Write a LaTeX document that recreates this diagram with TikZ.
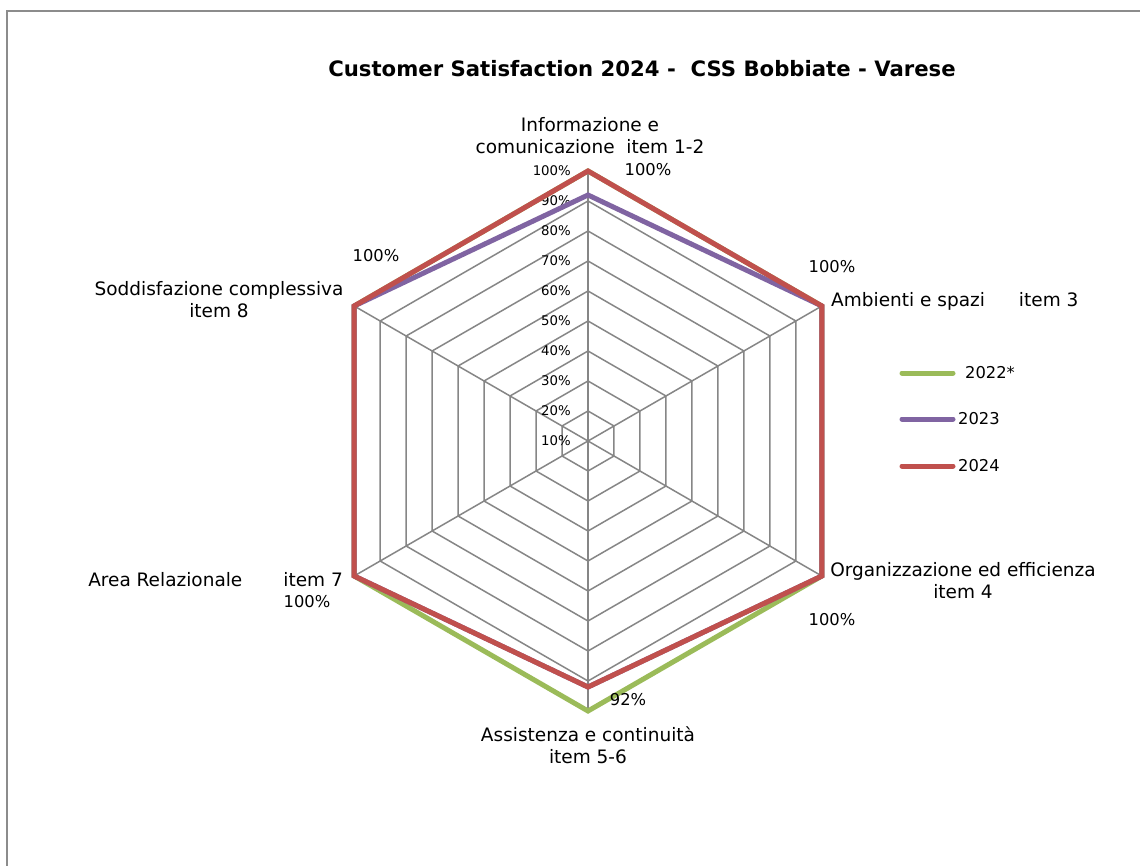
\documentclass[tikz,border=0pt]{standalone}
\usepackage{fontspec}
\setmainfont{DejaVu Sans}
\begin{document}
\begin{tikzpicture}[x=1pt,y=1pt,
  grid/.style={draw=gridgray,line width=1.5},
  series/.style={line width=5,line join=miter},
  cat/.style={inner sep=0,align=center,font=\fontsize{18.5}{22}\selectfont},
  dlab/.style={inner sep=0,font=\fontsize{16.3}{19}\selectfont},
  tick/.style={inner sep=0,anchor=east,font=\fontsize{13.3}{15}\selectfont},
  leg/.style={line width=5,line cap=round},
  legtext/.style={inner sep=0,anchor=west,font=\fontsize{16.3}{19}\selectfont}]
\definecolor{gridgray}{HTML}{868686}
\definecolor{sgreen}{HTML}{9BBB59}
\definecolor{spurple}{HTML}{8064A2}
\definecolor{sred}{HTML}{C0504D}
\definecolor{bordergray}{HTML}{8C8C8C}
\useasboundingbox (0,0) rectangle (1140,-866);
\clip (0,0) rectangle (1140,-866);
\fill[white] (0,0) rectangle (1140,-866);
\draw[bordergray,line width=2] (7,-11) rectangle (1170,-900);
% title
\node[inner sep=0,font=\fontsize{21.2}{24}\selectfont\bfseries] (title) at (642,-69) {Customer Satisfaction 2024 -\ \ CSS Bobbiate - Varese};
% chart
\begin{scope}[shift={(588,-441)}]
  \coordinate (c) at (0,0);
  \foreach \r in {30,60,...,270}
    \draw[grid] (90:\r) -- (30:\r) -- (-30:\r) -- (-90:\r) -- (-150:\r) -- (150:\r) -- cycle;
  \foreach \a in {90,30,-30,-90,-150,150}
    \draw[grid] (c) -- (\a:270);
  % tick labels
  \foreach \r/\t in {270/100,240/90,210/80,180/70,150/60,120/50,90/40,60/30,30/20,0/10}
    \node[tick] at (-17,\r) {\t\%};
  % series
  \draw[series,sgreen] (90:270) -- (30:270) -- (-30:270) -- (-90:270) -- (-150:270) -- (150:270) -- cycle;
  \draw[series,spurple] (90:246) -- (30:270) -- (-30:270) -- (-90:246) -- (-150:270) -- (150:270) -- cycle;
  \draw[series,sred] (90:270) -- (30:270) -- (-30:270) -- (-90:246) -- (-150:270) -- (150:270) -- cycle;
\end{scope}
% category labels
\node[cat] (c1) at (590,-136) {Informazione e\\comunicazione\ \ item 1-2};
\node[cat,anchor=west] (c2) at (831,-301) {Ambienti e spazi\hspace{34pt}item 3};
\node[cat] (c3) at (963,-581) {Organizzazione ed efficienza\\item 4};
\node[cat] (c4) at (588,-745) {Assistenza e continuità\\item 5-6};
\node[cat,anchor=east] (c5) at (343,-580) {Area Relazionale\hspace{41pt}item 7};
\node[cat] (c6) at (219,-300) {Soddisfazione complessiva\\item 8};
% data labels
\node[dlab] (d1) at (648,-170) {100\%};
\node[dlab] (d2) at (832,-267) {100\%};
\node[dlab] (d3) at (832,-620) {100\%};
\node[dlab] (d4) at (628,-700) {92\%};
\node[dlab] (d5) at (307,-602) {100\%};
\node[dlab] (d6) at (376,-256) {100\%};
% legend
\coordinate (l1a) at (902,-373); \coordinate (l1b) at (953,-373);
\coordinate (l2a) at (902,-419); \coordinate (l2b) at (953,-419);
\coordinate (l3a) at (902,-466); \coordinate (l3b) at (953,-466);
\draw[leg,sgreen] (l1a) -- (l1b);
\draw[leg,spurple] (l2a) -- (l2b);
\draw[leg,sred] (l3a) -- (l3b);
\node[legtext] (t1) at (965,-373) {2022*};
\node[legtext] (t2) at (958,-419) {2023};
\node[legtext] (t3) at (958,-466) {2024};
\end{tikzpicture}
\end{document}
